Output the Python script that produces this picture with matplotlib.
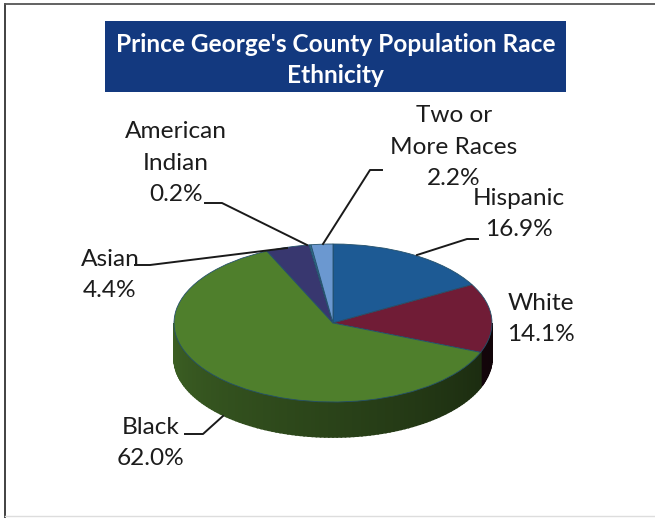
import numpy as np
import matplotlib
matplotlib.use("Agg")
import matplotlib.pyplot as plt
import matplotlib.colors as mcolors
from matplotlib.patches import Rectangle

plt.rcParams['font.family'] = ['Lato', 'DejaVu Sans']

# Dados
categorias = ["Hispanic", "White", "Black", "Asian", "American Indian", "Two or More Races"]
valores = [16.9, 14.1, 62.0, 4.4, 0.2, 2.2]
cores = ["#1d5a94", "#701c36", "#4f7f2c", "#38376f", "#2f6f8f", "#6b98d0"]
cores_lado = ["#12304f", "#2c0c18", "#3d6124", "#1c1c3a", "#18384a", "#36507a"]
rotulos = ["Hispanic\n16.9%", "White\n14.1%", "Black\n62.0%", "Asian\n4.4%",
           "American\nIndian\n0.2%", "Two or\nMore Races\n2.2%"]

# Centro e raios da pizza em pixels
cx, cy, rx, ry, altura = 333, 323, 159, 79, 35

fig = plt.figure(figsize=(6.55, 5.18), dpi=100, facecolor="white")

# Pizza achatada: uma unidade vale rx pixels em x e ry pixels em y
ax = fig.add_axes([0, 0, 1, 1])

# Lateral do disco, em faixas escurecendo para a direita
fim = 90 - np.cumsum(valores) * 3.6
inicio = fim + np.array(valores) * 3.6
h = altura / ry
for ini, f, cor in zip(inicio, fim, cores_lado):
    for faixa in [(ini, f), (ini + 360, f + 360)]:
        a0 = max(faixa[1], 180)
        a1 = min(faixa[0], 360)
        if a1 <= a0:
            continue
        angs = np.arange(a0, a1 + 1.5, 1.5)
        angs[-1] = a1
        for a, b in zip(angs[:-1], angs[1:]):
            m = (a + b) / 2
            luz = 1.0 - 0.62 * (m - 180) / 180
            c = np.array(mcolors.to_rgb(cor)) * luz
            xs = np.cos(np.radians([a, b, b, a]))
            ys = np.sin(np.radians([a, b, b, a])) - np.array([0, 0, h, h])
            ax.fill(xs, ys, facecolor=c, edgecolor=c, lw=1.2, zorder=1)

fatias, _ = ax.pie(valores, colors=cores, startangle=90, counterclock=False, radius=1,
                   wedgeprops=dict(edgecolor="#24506a", linewidth=0.6, zorder=2))
ax.set_aspect("auto")
ax.set_xlim(-cx / rx, (655 - cx) / rx)
ax.set_ylim((cy - 518) / ry, cy / ry)
ax.axis("off")

# Camada de textos e linhas em pixels
tx = fig.add_axes([0, 0, 1, 1], facecolor="none")
tx.set_xlim(0, 655)
tx.set_ylim(518, 0)
tx.axis("off")

# Moldura
tx.plot([5, 5], [518, 4], color="#333333", lw=1.3)
tx.plot([5, 655], [4, 4], color="#555555", lw=1.3)
tx.plot([5, 655], [516, 516], color="#dddddd", lw=1)

# Caixa do titulo
tx.add_patch(Rectangle((105, 21), 461, 71, facecolor="#13397f", edgecolor="none"))
tx.text(335.5, 60, "Prince George's County Population Race\nEthnicity", color="white",
        fontsize=17.6, fontweight="bold", ha="center", va="center", linespacing=1.45)

# Rotulos
pos_rotulos = [(519, 214), (541, 319), (151, 443), (110, 275), (176, 163), (454, 147)]
for txt, (x, y) in zip(rotulos, pos_rotulos):
    tx.text(x, y, txt, fontsize=17.6, color="#1c1c1c", ha="center", va="center", linespacing=1.62)

# Linhas de chamada
chamadas = [
    ([417, 467, 478], [255, 239, 239]),
    ([223, 203, 185], [416, 434, 434]),
    ([287, 150, 135], [248, 265, 265]),
    ([307, 222, 205], [245, 203, 203]),
    ([323, 370, 382], [244, 170, 170]),
]
for xs, ys in chamadas:
    tx.plot(xs, ys, color="#1a1a1a", lw=1.4)

fig.savefig("out.png", dpi=100)
